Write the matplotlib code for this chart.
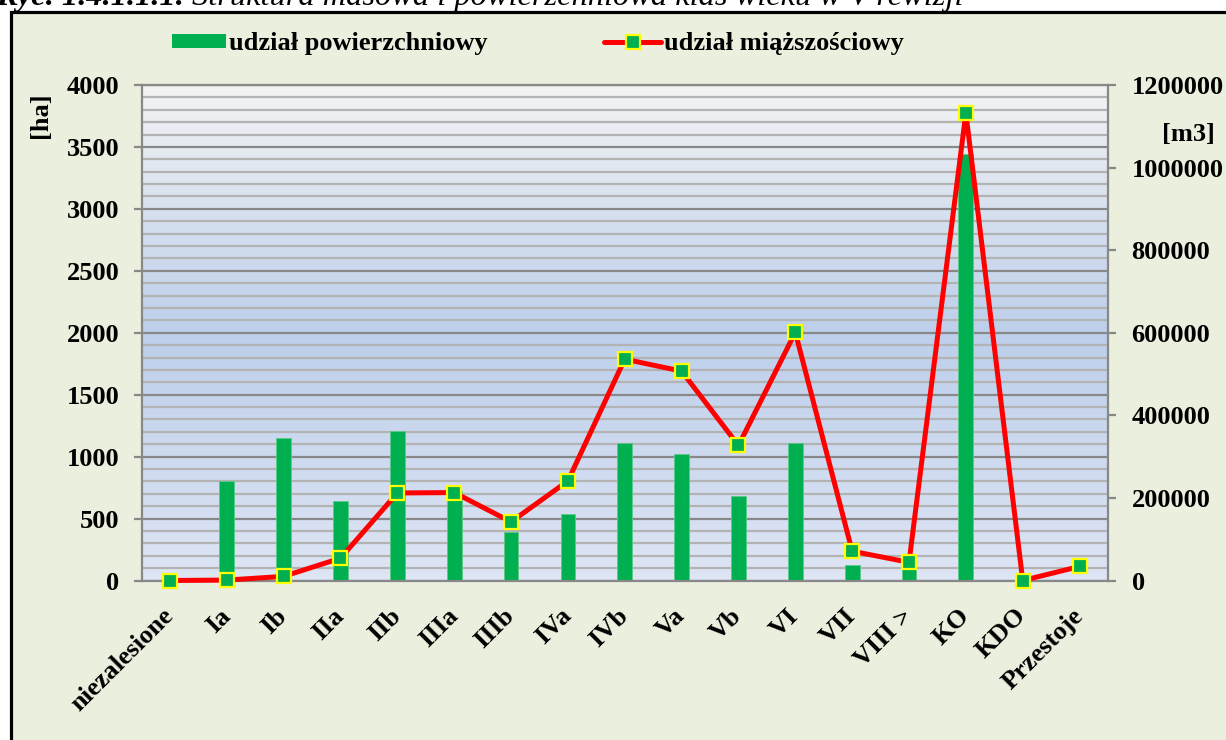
import matplotlib.pyplot as plt
import numpy as np
from matplotlib.colors import LinearSegmentedColormap
from matplotlib.lines import Line2D
from matplotlib.patches import Rectangle
from matplotlib.ticker import MultipleLocator


CATEGORIES = [
    "niezalesione", "Ia", "Ib", "IIa", "IIb", "IIIa", "IIIb", "IVa", "IVb",
    "Va", "Vb", "VI", "VII", "VIII >", "KO", "KDO", "Przestoje",
]
AREA_HA = [0, 800, 1150, 643, 1208, 720, 395, 536, 1113, 1022, 681, 1106, 127, 110, 3443, 0, 0]
VOLUME_M3 = [0, 1000, 10000, 54000, 212000, 213000, 142000, 241000, 536000, 507000,
             327000, 601000, 71000, 44000, 1132000, 0, 34000]

LEFT_TICKS = [0, 500, 1000, 1500, 2000, 2500, 3000, 3500, 4000]
RIGHT_TICKS = [0, 200000, 400000, 600000, 800000, 1000000, 1200000]

W, H = 1226, 740
GREEN = "#00B050"
RED = "#FF0000"
YELLOW = "#FFFF00"
FONT = "Liberation Serif"


def fx(px):
    return px / W


def fy(py):
    return 1 - py / H


fig = plt.figure(figsize=(W / 100, H / 100), dpi=100, facecolor="white")

# outer frame of the chart object (cut off at right and bottom)
fig.add_artist(Rectangle((fx(10.5), -0.1), 1.2, fy(12) + 0.1, transform=fig.transFigure,
                         facecolor="#EBEFDE", edgecolor="black", linewidth=2.3, zorder=0))

ax = fig.add_axes([fx(141.5), fy(580.5), fx(1108) - fx(141.5), fy(85) - fy(580.5)])
ax.patch.set_alpha(0)

# gradient plot area
grad_cmap = LinearSegmentedColormap.from_list(
    "plotarea", [(0.0, "#DEE5F4"), (0.5, "#BDCFEB"), (1.0, "#F3F3F3")])
grad = np.linspace(0, 1, 256).reshape(-1, 1)
ax.imshow(grad, cmap=grad_cmap, aspect="auto", origin="lower",
          extent=[-0.5, len(CATEGORIES) - 0.5, 0, 4000], zorder=-2)

x = np.arange(len(CATEGORIES))
ax.bar(x, AREA_HA, width=0.26, color=GREEN, edgecolor="#5CC98A", linewidth=0.6, zorder=2)

ax.set_xlim(-0.5, len(CATEGORIES) - 0.5)
ax.set_ylim(0, 4000)
ax.set_yticks(LEFT_TICKS)
ax.yaxis.set_minor_locator(MultipleLocator(100))
ax.grid(True, which="major", axis="y", color="#888888", linewidth=1.6, zorder=0.5)
ax.grid(True, which="minor", axis="y", color="#B3B3B3", linewidth=1.6, zorder=0.4)
ax.set_axisbelow(True)
for s in ax.spines.values():
    s.set_color("#888888")
    s.set_linewidth(1.6)

tick_font = dict(family=FONT, weight="bold", size=19)
ax.tick_params(axis="y", which="major", length=6, width=1.6, color="#888888", pad=10)
ax.tick_params(axis="y", which="minor", length=0)
ax.tick_params(axis="x", length=0, pad=23)
ax.set_yticklabels([str(v) for v in LEFT_TICKS], fontdict=tick_font)
ax.set_xticks(x)
ax.set_xticklabels(CATEGORIES, fontdict=tick_font, rotation=45, ha="right",
                   va="center", rotation_mode="anchor")

ax2 = ax.twinx()
ax2.plot(x, VOLUME_M3, color=RED, linewidth=3.6, marker="s", markersize=10,
         markerfacecolor=GREEN, markeredgecolor=YELLOW, markeredgewidth=1.6,
         zorder=3, clip_on=False)
ax2.set_ylim(0, 1200000)
ax2.set_yticks(RIGHT_TICKS)
ax2.set_yticklabels([str(v) for v in RIGHT_TICKS], fontdict=tick_font)
ax2.tick_params(axis="y", length=6, width=1.6, color="#888888", pad=11)
for s in ax2.spines.values():
    s.set_visible(False)

# axis titles
fig.text(fx(40), fy(115), "[ha]", rotation=90, ha="center", va="center",
         family=FONT, weight="bold", size=19)
fig.text(fx(1188), fy(135), "[m3]", ha="center", va="center",
         family=FONT, weight="bold", size=19)

# legend drawn by hand (two handles of different length)
fig.add_artist(Rectangle((fx(172), fy(48)), fx(226) - fx(172), fy(34) - fy(48),
                         transform=fig.transFigure, facecolor=GREEN, edgecolor="none"))
fig.text(fx(229), fy(50), "udział powierzchniowy", ha="left", va="baseline",
         family=FONT, weight="bold", size=19)
fig.add_artist(Line2D([fx(604), fx(661)], [fy(42), fy(42)], transform=fig.transFigure,
                      color=RED, linewidth=3.6, solid_capstyle="round"))
fig.add_artist(Line2D([fx(633)], [fy(42)], transform=fig.transFigure, marker="s",
                      markersize=10, markerfacecolor=GREEN, markeredgecolor=YELLOW,
                      markeredgewidth=1.6))
fig.text(fx(664), fy(50), "udział miąższościowy", ha="left", va="baseline",
         family=FONT, weight="bold", size=19)

# caption, partly cut off at the top edge
t1 = fig.text(fx(-4), fy(5), "Ryc. 1.4.1.1.1. ", ha="left", va="baseline",
              family=FONT, weight="bold", style="italic", size=23.3)
ax.annotate("Struktura masowa i powierzchniowa klas wieku w V rewizji",
            xy=(1, 0), xycoords=t1, ha="left", va="bottom",
            family=FONT, style="italic", size=23.3, annotation_clip=False)

fig.savefig("out.png", dpi=100, facecolor=fig.get_facecolor())
